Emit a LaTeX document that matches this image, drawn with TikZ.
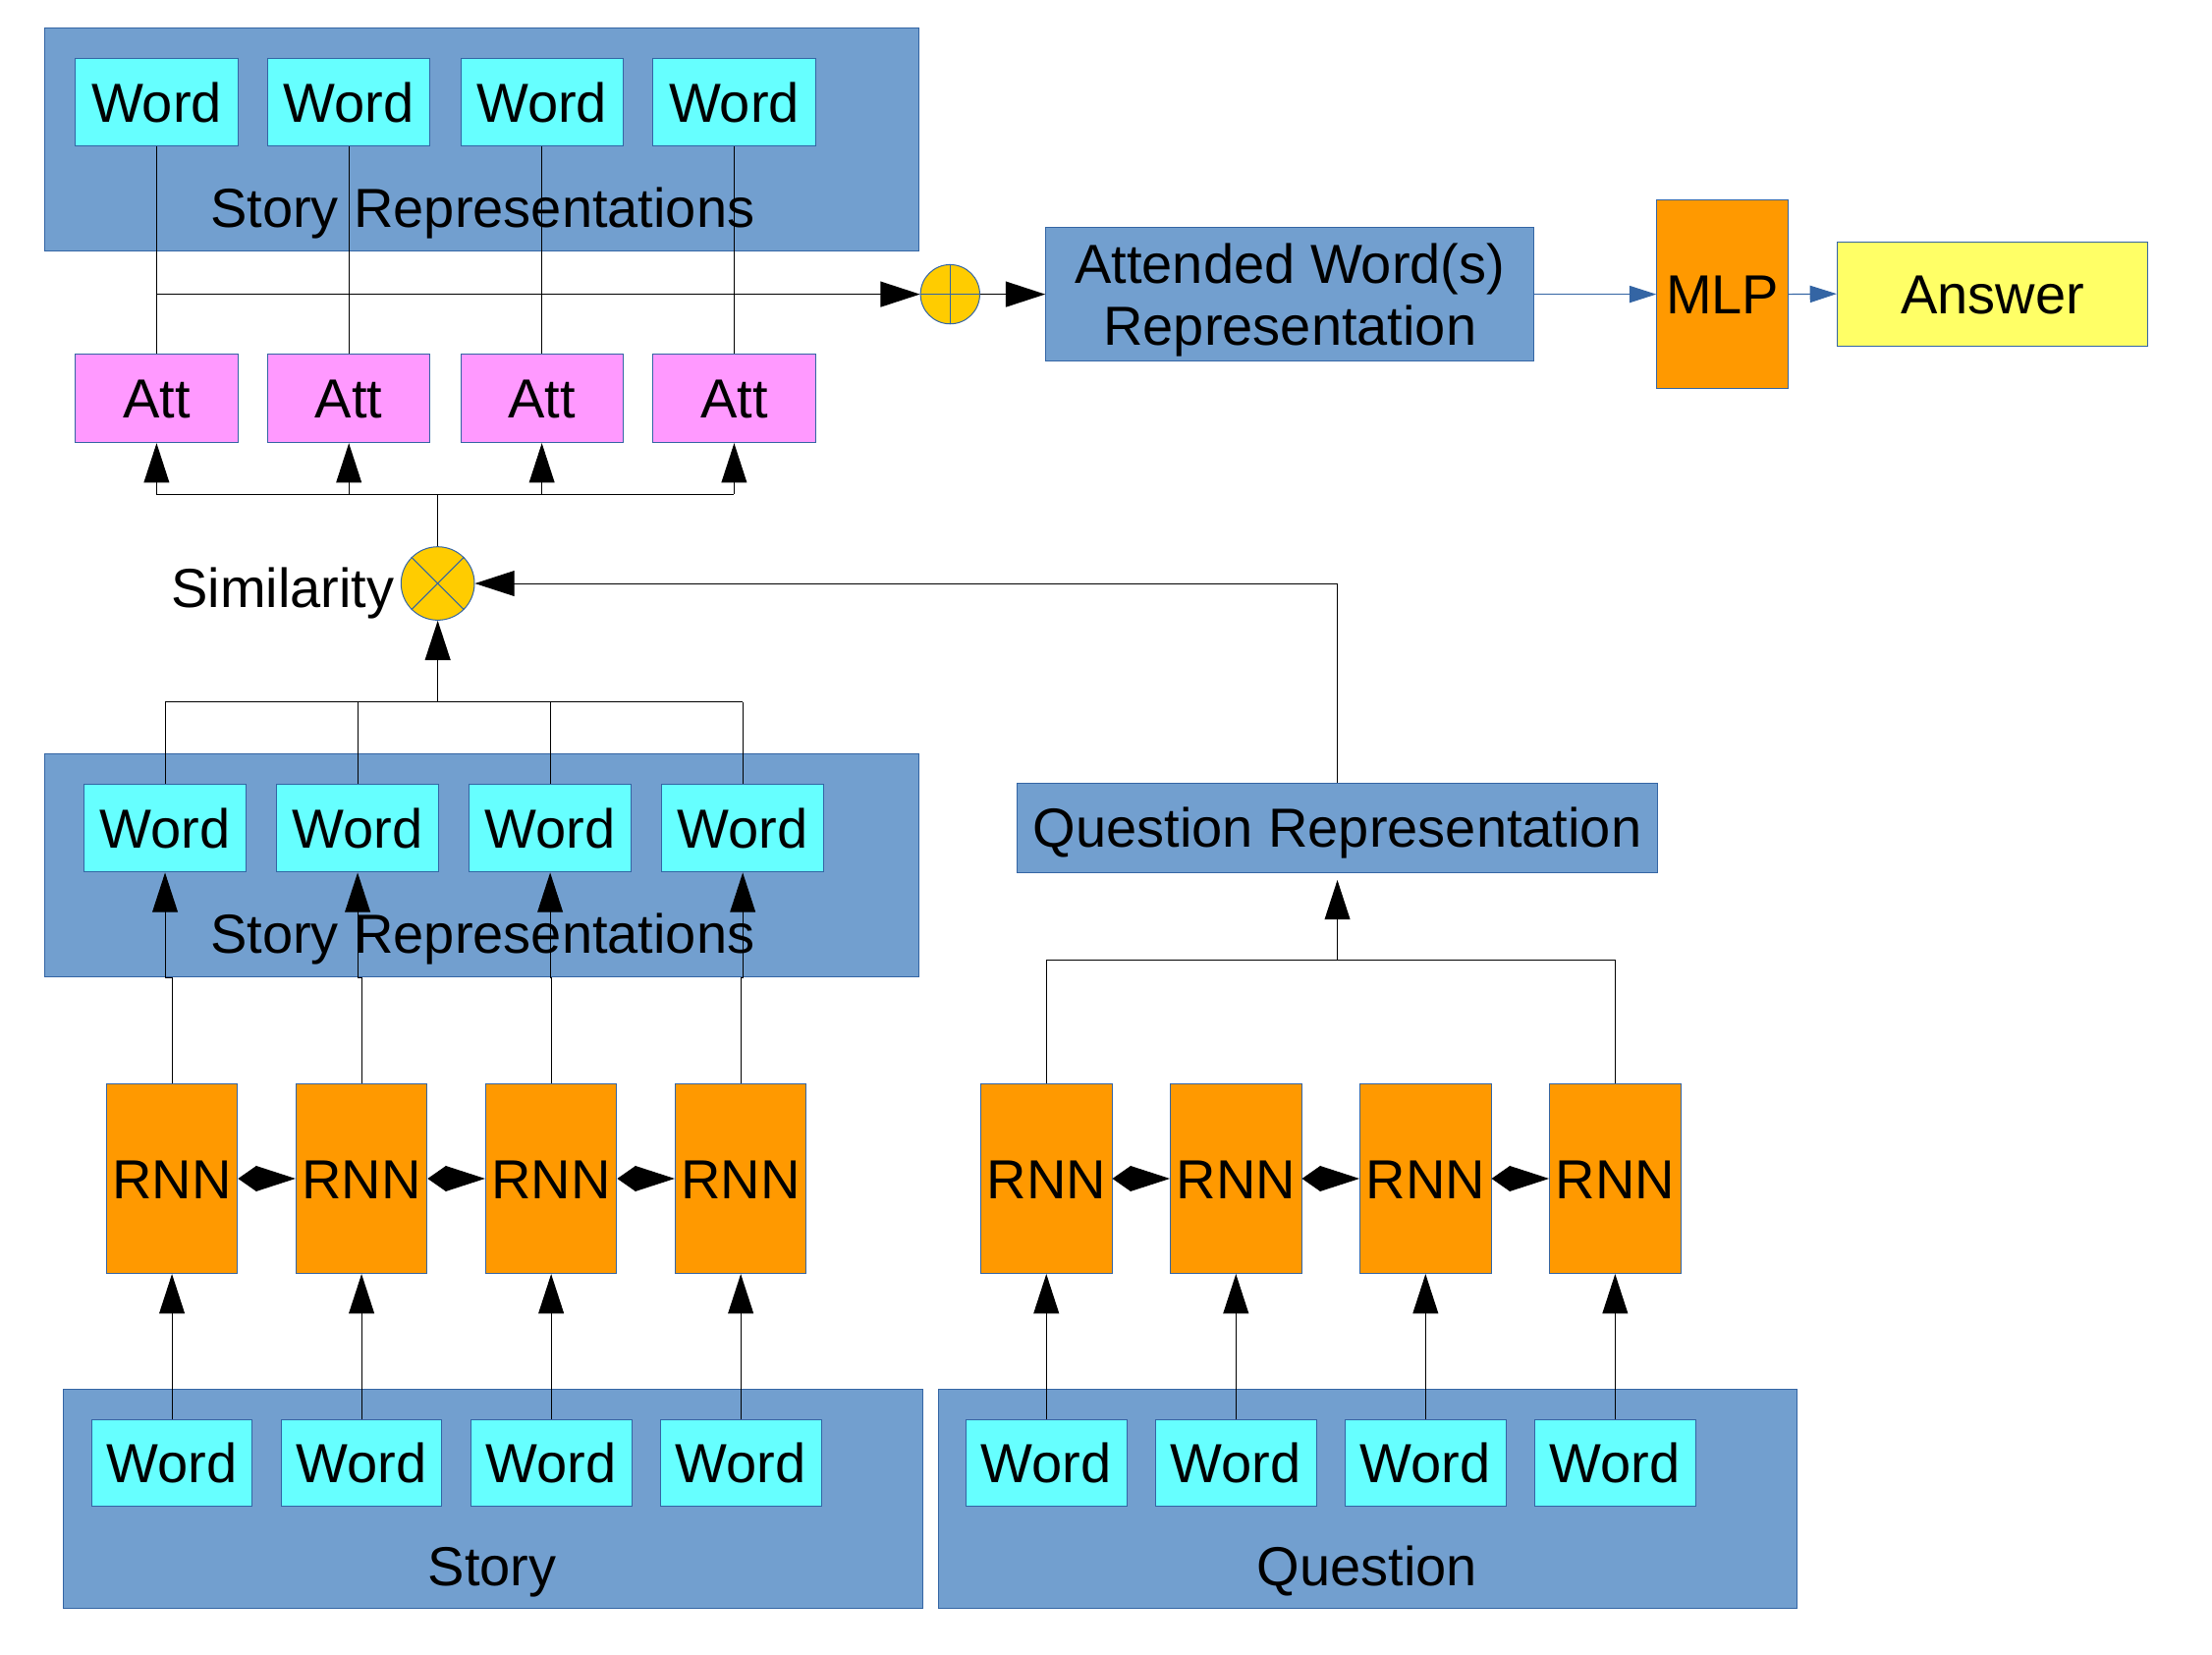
\documentclass[tikz,border=0pt]{standalone}
\usepackage{fontspec}
\setmainfont{Liberation Sans}
\usetikzlibrary{arrows.meta,calc}
\definecolor{contblue}{HTML}{729FCF}
\definecolor{edgeblue}{HTML}{3465A4}
\definecolor{wordcyan}{HTML}{66FFFF}
\definecolor{attpink}{HTML}{FF99FF}
\definecolor{rnnorange}{HTML}{FF9900}
\definecolor{ansyellow}{HTML}{FFFF66}
\definecolor{opyellow}{HTML}{FFCC00}
\tikzset{
  bigfont/.style={font=\fontsize{39bp}{44bp}\selectfont},
  box/.style={draw=edgeblue, line width=0.7bp, inner sep=0pt, bigfont},
  onel/.style={text height=28bp, text depth=0pt},
  cont/.style={box, fill=contblue},
  wordbox/.style={box, onel, fill=wordcyan, minimum width=115bp, minimum height=62.5bp},
  attbox/.style={box, onel, fill=attpink, minimum width=115bp, minimum height=63bp},
  rnnbox/.style={box, onel, fill=rnnorange, minimum width=93bp, minimum height=134.5bp},
  opnode/.style={circle, draw=edgeblue, fill=opyellow, inner sep=0pt, line width=0.7bp},
  lbl/.style={inner sep=0pt, bigfont, onel},
  wire/.style={line width=0.7bp, black},
  thickwire/.style={line width=1.1bp, black},
  arr/.style={wire, -{Triangle[length=28bp,width=18bp]}},
  thickarr/.style={thickwire, -{Triangle[length=28bp,width=18bp]}},
  biarr/.style={wire, {Triangle[length=13bp,width=18bp]}-{Triangle[length=28bp,width=18bp]}},
  bluearr/.style={edgeblue, line width=0.8bp, -{Triangle[length=19bp,width=12bp]}},
}
\begin{document}
\begin{tikzpicture}[x=1bp,y=-1bp]
\useasboundingbox (0,0) rectangle (1568,1173);

% containers
\node[cont, minimum width=619.6bp, minimum height=157.9bp] (topcont) at (341.6,98.6) {};
\node[cont, minimum width=619.7bp, minimum height=157.8bp] (midcont) at (341.6,613.2) {};
\node[cont, minimum width=609.3bp, minimum height=155.5bp] (storycont) at (349.3,1062.7) {};
\node[cont, minimum width=609bp, minimum height=155.5bp] (questcont) at (969.5,1062.7) {};
\node[lbl] (toplbl) at (342,147.5) {Story Representations};
\node[lbl] (midlbl) at (342,661.5) {Story Representations};
\node[lbl] (storylbl) at (349,1110) {Story};
\node[lbl] (questlbl) at (969,1110) {Question};

% top words and att
\foreach \i/\x in {1/111,2/247.3,3/384.1,4/520.4}{
  \node[wordbox] (tw\i) at (\x,72.4) {Word};
  \node[attbox] (att\i) at (\x,282.3) {Att};
}
% middle words
\foreach \i/\x in {1/117,2/253.5,3/390,4/526.5}{
  \node[wordbox] (mw\i) at (\x,587) {Word};
}
% RNNs and bottom words
\foreach \i/\x in {1/121.9,2/256.3,3/390.7,4/525.1}{
  \node[rnnbox] (sr\i) at (\x,835.5) {RNN};
  \node[wordbox, minimum width=114bp, minimum height=61bp] (sw\i) at (\x,1037) {Word};
}
\foreach \i/\x in {1/741.7,2/876.1,3/1010.5,4/1144.9}{
  \node[rnnbox] (qr\i) at (\x,835.5) {RNN};
  \node[wordbox, minimum width=114bp, minimum height=61bp] (qw\i) at (\x,1037) {Word};
}

% right part
\node[opnode, minimum size=42bp] (plus) at (673.5,208.6) {};
\draw[edgeblue, line width=0.7bp] (plus.north) -- (plus.south);
\node[box, fill=contblue, minimum width=346.2bp, minimum height=94.7bp, align=center] (attrep) at (914.4,208.6) {\rule{0pt}{36bp}Attended Word(s)\\Representation};
\node[box, onel, fill=rnnorange, minimum width=93.2bp, minimum height=134.1bp] (mlp) at (1221,208.6) {MLP};
\node[box, onel, fill=ansyellow, minimum width=220.1bp, minimum height=73.6bp] (answer) at (1412.4,208.3) {Answer};

% similarity
\node[opnode, minimum size=52bp] (sim) at (310.3,413.6) {};
\draw[edgeblue, line width=0.7bp] (sim.north east) -- (sim.south west) (sim.north west) -- (sim.south east);
\node[lbl, anchor=east] (simlbl) at (279.7,416.4) {Similarity};

% question representation
\node[box, onel, fill=contblue, minimum width=453.6bp, minimum height=63.3bp] (qrep) at (948,586.8) {Question Representation};

% top words -> att (vertical lines)
\foreach \i in {1,...,4}{
  \draw[wire] (tw\i.south) -- (att\i.north);
}
% horizontal to plus
\draw[thickarr] (tw1.south |- plus.west) -- (plus.west);
\draw[edgeblue, line width=0.7bp] (plus.west) -- (plus.east);
\draw[thickarr] (plus.east) -- (attrep.west);
\draw[bluearr] (attrep.east) -- (mlp.west);
\draw[bluearr] (mlp.east) -- (answer.west);

% sim -> att bus
\coordinate (abus) at (310.3,350.5);
\draw[thickwire] (sim.north) -- (abus);
\draw[wire] (abus -| att1.south) -- (abus -| att4.south);
\foreach \i in {1,...,4}{
  \draw[arr] (abus -| att\i.south) -- (att\i.south);
}

% mid words -> sim
\coordinate (sbus) at (310.3,497.7);
\draw[thickarr] (sbus) -- (sim.south);
\draw[wire] (sbus -| mw1.north) -- (sbus -| mw4.north);
\foreach \i in {1,...,4}{
  \draw[wire] (sbus -| mw\i.north) -- (mw\i.north);
}

% question rep -> sim
\draw[arr] (qrep.north) |- (sim.east);

% story RNN -> mid words
\coordinate (jog) at (0,693.3);
\foreach \i in {1,...,4}{
  \draw[arr] (sr\i.north) -- (sr\i.north |- jog) -- (mw\i.south |- jog) -- (mw\i.south);
}

% RNN chains
\foreach \a/\b in {1/2,2/3,3/4}{
  \draw[biarr] (sr\a.east) -- (sr\b.west);
  \draw[biarr] (qr\a.east) -- (qr\b.west);
}

% words -> RNN
\foreach \i in {1,...,4}{
  \draw[arr] (sw\i.north) -- (sr\i.south);
  \draw[arr] (qw\i.north) -- (qr\i.south);
}

% question RNN -> question rep
\coordinate (qbus) at (948,680.5);
\draw[wire] (qr1.north) |- (qbus) -| (qr4.north);
\draw[arr, shorten >=5bp] (qbus) -- (qrep.south);
\end{tikzpicture}
\end{document}
